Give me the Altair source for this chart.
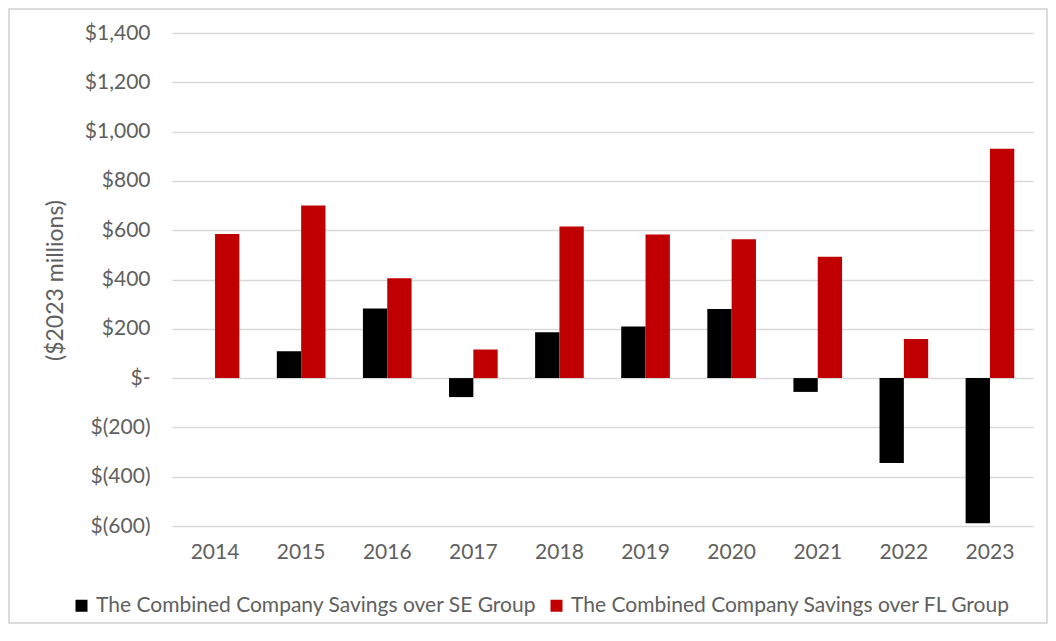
import altair as alt
import pandas as pd

years = ["2014", "2015", "2016", "2017", "2018", "2019", "2020", "2021", "2022", "2023"]
se_savings = [0, 109, 282, -77, 186, 209, 280, -56, -344, -589]
fl_savings = [585, 700, 405, 116, 615, 583, 563, 492, 159, 930]
series_names = [
    "The Combined Company Savings over SE Group",
    "The Combined Company Savings over FL Group",
]
series_colors = ["#000000", "#C00000"]
y_ticks = [-600, -400, -200, 0, 200, 400, 600, 800, 1000, 1200, 1400]

rows = []
for yr, a, b in zip(years, se_savings, fl_savings):
    rows.append({"year": yr, "series": series_names[0], "value": a})
    rows.append({"year": yr, "series": series_names[1], "value": b})
df = pd.DataFrame(rows)

FONT = "Lato"
GREY = "#606060"

bars = alt.Chart(df).mark_bar().encode(
    x=alt.X(
        "year:N",
        sort=years,
        scale=alt.Scale(paddingInner=0.435, paddingOuter=0.2175),
        axis=alt.Axis(
            title=None, labelAngle=0, ticks=False, domain=False, grid=False,
            labelPadding=15, labelFontSize=21, labelColor=GREY, labelFont=FONT,
        ),
    ),
    xOffset=alt.XOffset("series:N", sort=series_names),
    y=alt.Y(
        "value:Q",
        scale=alt.Scale(domain=[-600, 1400], nice=False, zero=False),
        axis=alt.Axis(
            values=y_ticks,
            title="($2023 millions)",
            titleFont=FONT, titleFontSize=23, titleColor=GREY, titleFontWeight="normal",
            titleX=-105, titleY=247,
            labelExpr="datum.value == 0 ? '$-  ' : (datum.value < 0 ? '$(' + format(-datum.value, ',') + ')' : '$' + format(datum.value, ',') + ' ')",
            labelFont=FONT, labelFontSize=21, labelColor=GREY, labelPadding=22,
            ticks=False, domain=False,
            grid=True, gridColor="#d9d9d9", gridWidth=1.5,
        ),
    ),
    color=alt.Color(
        "series:N",
        sort=series_names,
        scale=alt.Scale(domain=series_names, range=series_colors),
        legend=alt.Legend(
            title=None, orient="none", legendX=-101, legendY=562,
            direction="horizontal", symbolType="square", symbolSize=144,
            symbolStrokeWidth=0, labelFont=FONT, labelFontSize=21, labelColor=GREY,
            labelLimit=0, columnPadding=9, symbolOffset=0, labelOffset=4,
        ),
    ),
)

frame = alt.Chart(pd.DataFrame({"k": [0]})).mark_rect(
    filled=False, stroke="#d0d0d0", strokeWidth=1.5
).encode(
    x=alt.value(-163), x2=alt.value(875), y=alt.value(-24), y2=alt.value(590)
)

chart = alt.layer(frame, bars).properties(
    width=861,
    height=493,
    background="white",
    autosize=alt.AutoSizeParams(type="none"),
    padding={"left": 164, "top": 25, "right": 15, "bottom": 100},
).configure_view(stroke="transparent", strokeWidth=0)

chart.save("out.html", embed_options={"renderer": "svg", "actions": False})
